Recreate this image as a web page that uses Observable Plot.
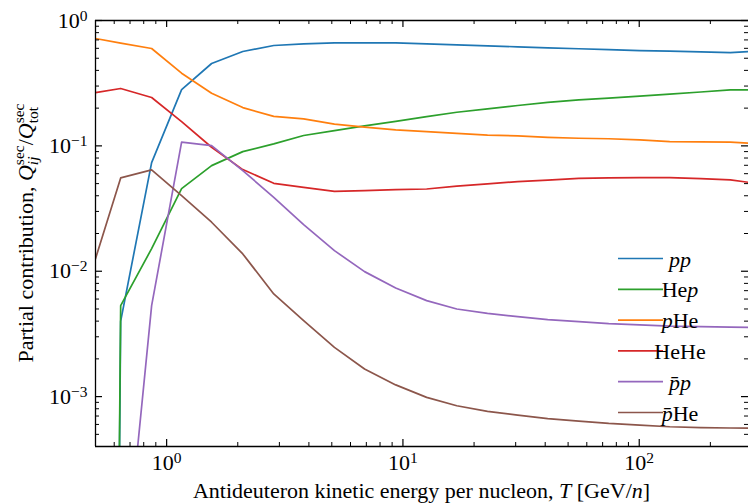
<!DOCTYPE html>
<html><head><meta charset="utf-8">
<script src="https://cdn.jsdelivr.net/npm/d3@7"></script>
<script src="https://cdn.jsdelivr.net/npm/@observablehq/plot@0.6"></script>
<style>
html,body{margin:0;padding:0;background:#fff;overflow:hidden;}
#chart svg{display:block;}
</style></head><body><div id="chart"></div>
<script>
// Kinetic energy per nucleon grid [GeV/n]
const T = [0.474, 0.5, 0.639, 0.864, 1.157, 1.55, 2.10, 2.84, 3.80, 5.13, 6.88, 9.32, 12.6, 16.9, 22.8, 30.6, 41.0, 55.5, 74.3, 100.5, 134.6, 182, 243, 290];
// Partial contributions (0 = vanishing contribution, null = not drawn)
const pp     = [0, null, 0.0040, 0.0736, 0.281, 0.454, 0.566, 0.632, 0.650, 0.664, 0.664, 0.662, 0.652, 0.640, 0.628, 0.617, 0.605, 0.595, 0.586, 0.576, 0.569, 0.562, 0.555, 0.565];
const Hep    = [0, null, 0.00531, 0.01515, 0.0456, 0.0696, 0.090, 0.1037, 0.121, 0.1325, 0.1444, 0.157, 0.171, 0.1855, 0.197, 0.210, 0.222, 0.233, 0.2406, 0.249, 0.259, 0.269, 0.280, 0.280];
const pHe    = [null, 0.718, 0.66, 0.598, 0.380, 0.263, 0.202, 0.172, 0.164, 0.149, 0.141, 0.134, 0.130, 0.126, 0.122, 0.120, 0.117, 0.115, 0.114, 0.1117, 0.108, 0.1077, 0.107, 0.105];
const HeHe   = [null, 0.266, 0.287, 0.243, 0.156, 0.0975, 0.0647, 0.0503, 0.0467, 0.0434, 0.0439, 0.0448, 0.0453, 0.0478, 0.0497, 0.0519, 0.0533, 0.0551, 0.0555, 0.0559, 0.0559, 0.0548, 0.0535, 0.0512];
const pbarp  = [null, null, 1.7e-5, 0.00531, 0.107, 0.1006, 0.0635, 0.0389, 0.0235, 0.0146, 0.00993, 0.00736, 0.00583, 0.0050, 0.00461, 0.00434, 0.00411, 0.00396, 0.00382, 0.00373, 0.00365, 0.00362, 0.00358, 0.00357];
const pbarHe = [null, 0.0126, 0.0555, 0.0643, 0.0401, 0.0246, 0.01375, 0.00659, 0.00403, 0.00247, 0.00166, 0.00124, 0.000986, 0.000846, 0.000762, 0.000711, 0.000667, 0.000637, 0.000611, 0.000593, 0.000575, 0.000565, 0.000562, 0.00056];

const labels = ["pp", "Hep", "pHe", "HeHe", "p\u0304p", "p\u0304He"];
const colors = ["#1f77b4", "#2ca02c", "#ff7f0e", "#d62728", "#9467bd", "#8c564b"];
const values = [pp, Hep, pHe, HeHe, pbarp, pbarHe];

const xMajor = [1, 10, 100];
const yMajor = [1e-3, 1e-2, 1e-1, 1];
const xDomain = [0.5, 290];
const yDomain = [4e-4, 1];

const minor = (lo, hi) => {
  const out = [];
  for (let k = Math.floor(Math.log10(lo)); k <= Math.ceil(Math.log10(hi)); k++)
    for (let m = 2; m <= 9; m++) { const v = m * Math.pow(10, k); if (v >= lo && v <= hi) out.push(v); }
  return out;
};
const xMinor = minor(xDomain[0], xDomain[1]);
const yMinor = minor(yDomain[0], yDomain[1]);

const rows = [];
values.forEach((vals, s) => vals.forEach((v, i) => {
  if (v != null) rows.push({T: T[i], v: v === 0 ? 1e-30 : v, key: labels[s]});
}));

const W = 748, H = 504, mL = 95, mR = 0, mT = 20, mB = 58;
const pw = W - mL - mR, ph = H - mT - mB;
const fmt = d => "10^" + Math.round(Math.log10(d));
const black = "#000";
const FONT = "'Liberation Serif', 'DejaVu Serif', serif";
const FS = 22, SUP = 15.5;

const svg = Plot.plot({
  width: W, height: H, marginLeft: mL, marginRight: mR, marginTop: mT, marginBottom: mB,
  style: {fontFamily: FONT, fontSize: FS + "px", color: black, background: "#fff", overflow: "visible"},
  x: {type: "log", domain: xDomain, axis: null},
  y: {type: "log", domain: yDomain, axis: null},
  color: {domain: labels, range: colors},
  marks: [
    Plot.line(rows, {x: "T", y: "v", z: "key", stroke: "key", strokeWidth: 1.7, clip: true}),
    Plot.ruleX([xDomain[0]], {stroke: black, strokeWidth: 1.3}),
    Plot.ruleY([yDomain[0]], {stroke: black, strokeWidth: 1.3}),
    Plot.ruleY([yDomain[1]], {stroke: black, strokeWidth: 1.3}),
    Plot.tickY(yMajor, {y: d => d, insetRight: pw - 7, stroke: black, strokeWidth: 1.2}),
    Plot.tickY(yMinor, {y: d => d, insetRight: pw - 4, stroke: black, strokeWidth: 1}),
    Plot.tickY(yMajor, {y: d => d, insetLeft: pw - 7, stroke: black, strokeWidth: 1.2}),
    Plot.tickY(yMinor, {y: d => d, insetLeft: pw - 4, stroke: black, strokeWidth: 1}),
    Plot.tickX(xMajor, {x: d => d, insetTop: ph - 7, stroke: black, strokeWidth: 1.2}),
    Plot.tickX(xMinor, {x: d => d, insetTop: ph - 4, stroke: black, strokeWidth: 1}),
    Plot.tickX(xMajor, {x: d => d, insetBottom: ph - 7, stroke: black, strokeWidth: 1.2}),
    Plot.tickX(xMinor, {x: d => d, insetBottom: ph - 4, stroke: black, strokeWidth: 1}),
    Plot.axisX({ticks: xMajor, tickSize: 0, tickPadding: 8, tickFormat: fmt, label: null, fill: black}),
    Plot.axisY({ticks: yMajor, tickSize: 0, tickPadding: 8, tickFormat: fmt, label: null, fill: black})
  ]
});
document.getElementById("chart").appendChild(svg);
const S = d3.select(svg);

// superscript exponents on tick labels
S.selectAll("text").each(function () {
  const m = (this.textContent || "").match(/^10\^(-?\d+)$/);
  if (!m) return;
  this.textContent = "10";
  d3.select(this).append("tspan").attr("dy", "-0.45em").attr("font-size", SUP + "px")
    .text(m[1].replace("-", "\u2212"));
});

// x-axis title
const xt = S.append("text").attr("x", mL + pw / 2).attr("y", 498).attr("text-anchor", "middle")
  .attr("font-family", FONT).attr("font-size", FS).attr("fill", black);
xt.append("tspan").text("Antideuteron kinetic energy per nucleon, ");
xt.append("tspan").attr("font-style", "italic").text("T");
xt.append("tspan").text(" [GeV/");
xt.append("tspan").attr("font-style", "italic").text("n");
xt.append("tspan").text("]");

// y-axis title with stacked sub/superscripts
const yt = S.append("text").attr("transform", `translate(33,${mT + ph / 2}) rotate(-90)`)
  .attr("text-anchor", "middle").attr("font-family", FONT).attr("font-size", FS).attr("fill", black);
yt.append("tspan").text("Partial contribution, ");
function stacked(sup, sub, subItalic) {
  yt.append("tspan").attr("font-style", "italic").text("Q");
  const a = yt.append("tspan").attr("font-size", SUP).attr("dy", -9).text(sup);
  const b = yt.append("tspan").attr("font-size", SUP).attr("dy", 14).attr("font-style", subItalic ? "italic" : null).text(sub);
  const wa = a.node().getComputedTextLength(), wb = b.node().getComputedTextLength();
  b.attr("dx", -wa);
  return Math.max(0, wa - wb);
}
const extra = stacked("sec", "ij", true);
yt.append("tspan").attr("dy", -5).attr("dx", extra).text("/");
const extra2 = stacked("sec", "tot", false);
yt.append("tspan").attr("dy", -5).attr("dx", extra2).text("");

// legend
const lg = S.append("g").attr("font-family", FONT).attr("font-size", FS).attr("fill", black);
labels.forEach((lab, i) => {
  const y = 258.5 + 30.8 * i;
  lg.append("line").attr("x1", 618).attr("x2", 663).attr("y1", y).attr("y2", y)
    .attr("stroke", colors[i]).attr("stroke-width", 1.7);
  const t = lg.append("text").attr("x", 680).attr("y", y + 8);
  (lab.match(/p\u0304?|He/g) || []).forEach(tok => {
    t.append("tspan").attr("font-style", tok[0] === "p" ? "italic" : null).text(tok);
  });
});
</script></body></html>
